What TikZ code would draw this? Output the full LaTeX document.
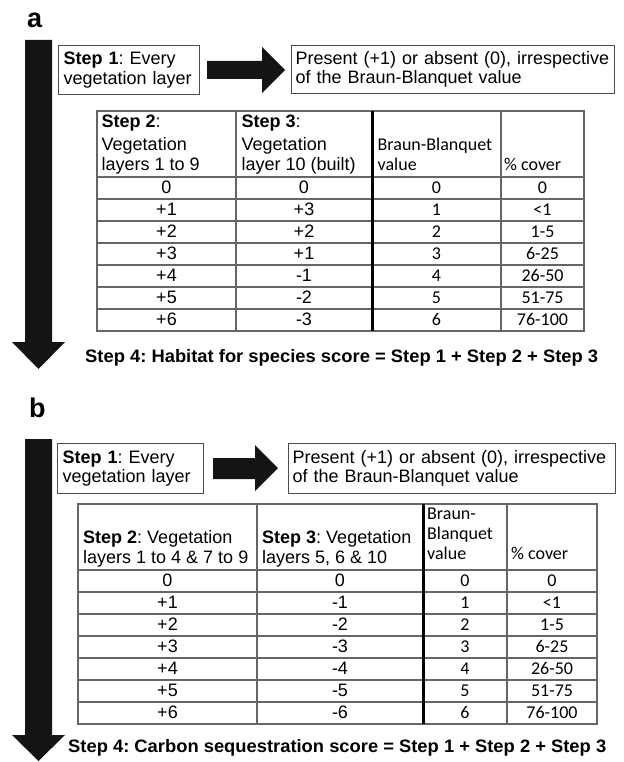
\documentclass[tikz,border=0pt]{standalone}
\usepackage{fontspec}
\usepackage{graphicx}
\setmainfont{Liberation Sans}
\newfontfamily\calib{Carlito}
\begin{document}
\frenchspacing
\begin{tikzpicture}[x=1pt,y=-1pt,
  boxed/.style={draw=black!70, line width=1.1pt, inner ysep=0pt, anchor=north west, align=left, font=\frenchspacing\fontsize{18}{19.5}\selectfont},
  gridline/.style={draw=black!60, line width=1.1pt},
  boldrule/.style={draw=black, line width=3pt},
  bigarrow/.style={fill=black!92, draw=none},
  cell/.style={anchor=base, inner sep=0pt, font=\fontsize{18}{20}\selectfont},
  ccell/.style={anchor=base, inner sep=0pt, font=\calib\fontsize{18}{20}\selectfont},
  hdr/.style={anchor=base west, inner sep=0pt, font=\frenchspacing\fontsize{18}{20}\selectfont},
  chdr/.style={anchor=base west, inner sep=0pt, font=\calib\fontsize{18}{20}\selectfont},
  panellbl/.style={anchor=base west, inner sep=0pt, font=\bfseries\fontsize{27}{27}\selectfont},
  stepfour/.style={anchor=base west, inner sep=0pt, font=\frenchspacing\bfseries\fontsize{18}{18}\selectfont}]

\useasboundingbox (0,0) rectangle (623,762);

% ================= panel a =================
\node[panellbl] (lbla) at (27,28) {a};
\fill[bigarrow] (25,40) -- (52,40) -- (52,342) -- (65,342) -- (38.5,369) -- (12,342) -- (25,342) -- cycle;

\node[boxed, minimum height=49, text width=131, inner xsep=5] (a1) at (58,45) {\textbf{Step 1}: Every\\vegetation layer};
\node[boxed, minimum height=48, text width=315, inner xsep=4] (a2) at (291,45) {Present (+1) or absent (0), irrespective\\of the Braun-Blanquet value};
\fill[bigarrow] (207,61) -- (262,61) -- (262,47) -- (285,70) -- (262,93) -- (262,79) -- (207,79) -- cycle;

% table a
\foreach \yy in {177,199,...,309} \draw[gridline] (97,\yy) -- (584,\yy);
\draw[gridline] (97,111) rectangle (584,331);
\draw[gridline] (236,111) -- (236,331);
\draw[gridline] (501,111) -- (501,331);
\draw[boldrule] (372,111) -- (372,331);

\node[hdr] (ha11) at (101.5,128) {\textbf{Step 2}:};
\node[hdr] (ha12) at (101.5,150) {Vegetation};
\node[hdr] (ha13) at (101.5,171) {layers 1 to 9};
\node[hdr] (ha21) at (241.5,128) {\textbf{Step 3}:};
\node[hdr] (ha22) at (241.5,150) {Vegetation};
\node[hdr] (ha23) at (241.5,171) {layer 10 (built)};
\node[chdr] (ha31) at (377.5,151) {Braun-Blanquet};
\node[chdr] (ha32) at (377.5,171) {value};
\node[chdr] (ha41) at (504,171) {\% cover};

\foreach \ca/\cb/\cc/\cd [count=\i from 0] in {0/0/0/0,+1/+3/1/<1,+2/+2/2/1-5,+3/+1/3/6-25,+4/-1/4/26-50,+5/-2/5/51-75,+6/-3/6/76-100}{
  \node[cell] (ta1-\i) at (166.5,{193.5+22*\i}) {\ca};
  \node[cell] (ta2-\i) at (304,{193.5+22*\i}) {\cb};
  \node[ccell] (ta3-\i) at (436.5,{193.5+22*\i}) {\cc};
  \node[ccell] (ta4-\i) at (542.5,{193.5+22*\i}) {\cd};
}

\node[stepfour] (s4a) at (85,362) {\resizebox{513pt}{\height}{Step 4: Habitat for species score = Step 1 + Step 2 + Step 3}};

% ================= panel b =================
\node[panellbl] (lblb) at (29,417) {b};
\fill[bigarrow] (25,439) -- (52,439) -- (52,735) -- (65,735) -- (38.5,761) -- (12,735) -- (25,735) -- cycle;

\node[boxed, minimum height=50, text width=136, inner xsep=5] (b1) at (57,443) {\textbf{Step 1}: Every\\vegetation layer};
\node[boxed, minimum height=50, text width=319, inner xsep=4] (b2) at (288,443) {Present (+1) or absent (0), irrespective\\of the Braun-Blanquet value};
\fill[bigarrow] (213,458) -- (255,458) -- (255,445) -- (278,468) -- (255,491) -- (255,479) -- (213,479) -- cycle;

% table b
\foreach \yy in {570,592,...,702} \draw[gridline] (78,\yy) -- (597,\yy);
\draw[gridline] (78,504) rectangle (597,724);
\draw[gridline] (257,504) -- (257,724);
\draw[gridline] (507,504) -- (507,724);
\draw[boldrule] (423,504) -- (423,724);

\node[hdr] (hb11) at (83,543) {\textbf{Step 2}: Vegetation};
\node[hdr] (hb12) at (83,563) {layers 1 to 4 \& 7 to 9};
\node[hdr] (hb21) at (262,543) {\textbf{Step 3}: Vegetation};
\node[hdr] (hb22) at (262,563) {layers 5, 6 \& 10};
\node[chdr] (hb31) at (427,519) {Braun-};
\node[chdr] (hb32) at (427,539) {Blanquet};
\node[chdr] (hb33) at (427,559) {value};
\node[chdr] (hb41) at (511,559) {\% cover};

\foreach \ca/\cb/\cc/\cd [count=\i from 0] in {0/0/0/0,+1/-1/1/<1,+2/-2/2/1-5,+3/-3/3/6-25,+4/-4/4/26-50,+5/-5/5/51-75,+6/-6/6/76-100}{
  \node[cell] (tb1-\i) at (167.5,{586.5+22*\i}) {\ca};
  \node[cell] (tb2-\i) at (340,{586.5+22*\i}) {\cb};
  \node[ccell] (tb3-\i) at (465,{586.5+22*\i}) {\cc};
  \node[ccell] (tb4-\i) at (552,{586.5+22*\i}) {\cd};
}

\node[stepfour] (s4b) at (68,752) {\resizebox{538pt}{\height}{Step 4: Carbon sequestration score = Step 1 + Step 2 + Step 3}};
\end{tikzpicture}
\end{document}
